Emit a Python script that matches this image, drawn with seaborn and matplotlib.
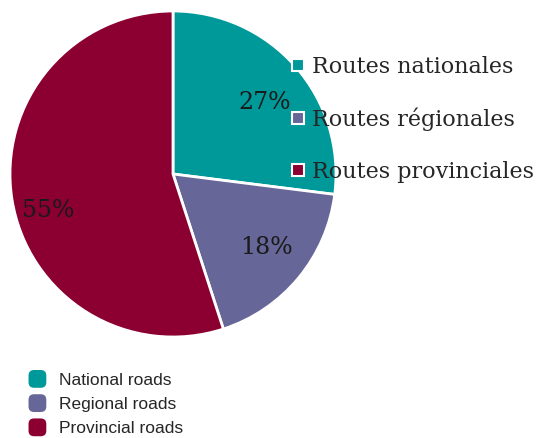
import matplotlib
matplotlib.use("Agg")
import matplotlib.pyplot as plt
import seaborn as sns
from matplotlib.lines import Line2D
from matplotlib.patches import FancyBboxPatch, Patch
from matplotlib.legend_handler import HandlerPatch

sns.set_style("white")

labels_fr = ["Routes nationales", "Routes régionales", "Routes provinciales"]
labels_en = ["National roads", "Regional roads", "Provincial roads"]
values = [27, 18, 55]
colors = ["#009999", "#666699", "#8B0030"]

W, H = 539, 438
fig = plt.figure(figsize=(W / 100, H / 100), dpi=100)
cx, cy, r = 173, 174, 163
ax = fig.add_axes([(cx - r) / W, (H - cy - r) / H, 2 * r / W, 2 * r / H])

wedges, texts, autotexts = ax.pie(
    values, colors=colors, startangle=90, counterclock=False,
    autopct="%1.0f%%", pctdistance=0.72,
    wedgeprops=dict(edgecolor="white", linewidth=2),
    textprops=dict(family="DejaVu Serif", fontsize=17, color="#1a1a1a"),
)
ax.set_xlim(-1, 1)
ax.set_ylim(-1, 1)
ax.set_aspect("equal")
ax.axis("off")
autotexts[0].set_position((0.564, 0.436))
autotexts[1].set_position((0.571, -0.448))
autotexts[2].set_position((-0.767, -0.221))

# French legend (inside, top-right)
fr_handles = [Line2D([], [], marker="s", linestyle="none", markersize=8,
                     markerfacecolor=c, markeredgecolor="white", markeredgewidth=1.5)
              for c in colors]
fig.legend(fr_handles, labels_fr, loc="upper left",
           bbox_to_anchor=(291 / W, 1 - 56 / H), frameon=False,
           prop=dict(family="DejaVu Serif", size=16),
           handlelength=0.6, handletextpad=0.35, labelspacing=1.33,
           borderpad=0, borderaxespad=0)


class RoundHandler(HandlerPatch):
    def create_artists(self, legend, orig_handle, xdescent, ydescent,
                       width, height, fontsize, trans):
        s = min(width, height)
        p = FancyBboxPatch((-xdescent + (width - s) / 2 + 2, -ydescent + 2), s - 4, s - 4,
                           boxstyle="round,pad=2,rounding_size=4",
                           facecolor=orig_handle.get_facecolor(), edgecolor="none",
                           transform=trans)
        return [p]


en_handles = [Patch(facecolor=c) for c in colors]
fig.legend(en_handles, labels_en, loc="upper left",
           bbox_to_anchor=(27 / W, 1 - 370 / H), frameon=False,
           prop=dict(family="Liberation Sans", size=12.5),
           handler_map={Patch: RoundHandler()},
           handlelength=1.2, handleheight=1.2, handletextpad=0.65,
           labelspacing=0.37, borderpad=0, borderaxespad=0)

fig.savefig("out.png", dpi=100, facecolor="white")
